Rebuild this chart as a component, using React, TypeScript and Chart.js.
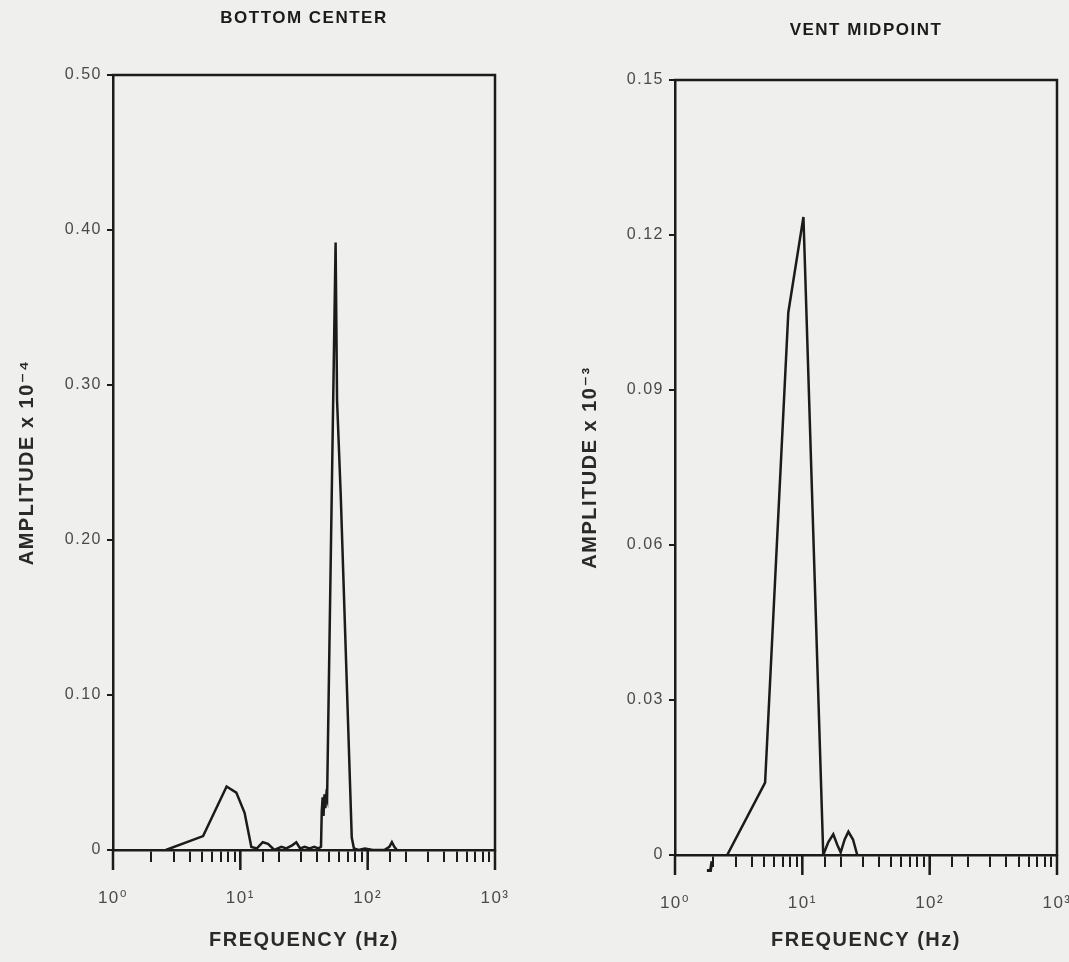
import React, { useEffect, useRef } from "react";
import { Chart, registerables } from "chart.js";

Chart.register(...registerables);

// ---------- data ----------
const leftFreq = [2.6, 5.1, 7.8, 9.3, 10.8, 12.2, 13.5, 15, 16.5, 18.5, 21, 23, 25.5, 27.5, 29.5, 32, 35, 38, 41, 43, 43.6, 44.3, 45, 45.8, 46.5, 47.3, 48, 56, 57.5, 61.5, 75, 78, 85, 95, 110, 135, 148, 155, 162, 170];
const leftAmp = [0, 0.009, 0.041, 0.037, 0.024, 0.002, 0.001, 0.005, 0.004, 0.0, 0.002, 0.001, 0.003, 0.005, 0.001, 0.002, 0.001, 0.002, 0.001, 0.002, 0.025, 0.034, 0.022, 0.036, 0.027, 0.035, 0.033, 0.392, 0.29, 0.228, 0.008, 0.001, 0.0, 0.001, 0.0, 0.0, 0.002, 0.005, 0.002, 0];

const rightFreq = [2.57, 5.1, 7.76, 10.2, 10.4, 14.6, 16, 17.5, 18.8, 20, 21.5, 23, 25, 27];
const rightAmp = [0, 0.014, 0.105, 0.1235, 0.117, 0, 0.0025, 0.004, 0.002, 0.0005, 0.003, 0.0045, 0.003, 0];

// small stray mark below the axis on the right panel
const rightMarkFreq = [1.78, 1.9, 1.95];
const rightMarkAmp = [-0.003, -0.003, -0.0012];

const leftYTicks = [0, 0.1, 0.2, 0.3, 0.4, 0.5];
const rightYTicks = [0, 0.03, 0.06, 0.09, 0.12, 0.15];
const xMajorTicks = [1, 10, 100, 1000];
const superscripts = ["\u2070", "\u00b9", "\u00b2", "\u00b3"];

const leftTitle = "BOTTOM CENTER";
const rightTitle = "VENT MIDPOINT";
const xTitle = "FREQUENCY (Hz)";
const leftYTitle = "AMPLITUDE x 10\u207b\u2074";
const rightYTitle = "AMPLITUDE x 10\u207b\u00b3";

// ---------- style ----------
const INK = "#1b1b1b";
const LABEL = "#4a4a4a";
const BG = "#efefed";
const SANS = '"Liberation Sans", Arial, "DejaVu Sans", sans-serif';

const spacingPlugin = {
  id: "spacing",
  beforeDraw(chart: any) {
    chart.ctx.letterSpacing = "1.5px";
  },
};

const framePlugin = {
  id: "frame",
  afterDraw(chart: any) {
    const { ctx, chartArea: a, scales } = chart;
    ctx.save();
    ctx.strokeStyle = INK;
    ctx.lineWidth = 2.5;
    ctx.lineCap = "square";
    ctx.beginPath();
    ctx.moveTo(a.left, a.top);
    ctx.lineTo(a.right, a.top);
    ctx.lineTo(a.right, a.bottom);
    ctx.stroke();
    // longer marks for decades
    ctx.lineCap = "butt";
    ctx.beginPath();
    for (const v of xMajorTicks) {
      const px = scales.x.getPixelForValue(v);
      ctx.moveTo(px, a.bottom);
      ctx.lineTo(px, a.bottom + 20);
    }
    ctx.stroke();
    ctx.restore();
  },
};

function toPoints(xs: number[], ys: number[]) {
  return xs.map((x, i) => ({ x, y: ys[i] }));
}

function fmtY(v: number) {
  if (Math.abs(v) < 1e-12) return "0";
  return v.toFixed(2);
}

function buildConfig(p: any) {
  const datasets: any[] = [
    {
      data: toPoints(p.freq, p.amp),
      borderColor: INK,
      borderWidth: 2.5,
      pointRadius: 0,
      tension: 0,
      fill: false,
    },
  ];
  if (p.markFreq) {
    datasets.push({
      data: toPoints(p.markFreq, p.markAmp),
      borderColor: INK,
      borderWidth: 3,
      pointRadius: 0,
      tension: 0,
      fill: false,
      clip: false,
    });
  }
  return {
    type: "line",
    data: { datasets },
    options: {
      responsive: false,
      animation: false,
      events: [],
      layout: { padding: { left: 0, right: p.padRight, top: 0, bottom: 0 } },
      plugins: {
        legend: { display: false },
        tooltip: { enabled: false },
        title: {
          display: true,
          text: p.title,
          fullSize: false,
          color: INK,
          font: { family: SANS, size: 17, weight: "bold", lineHeight: 1.2 },
          padding: { top: p.titleTop, bottom: p.titleBottom },
        },
      },
      scales: {
        x: {
          type: "logarithmic",
          min: 1,
          max: 1000,
          afterFit: (s: any) => {
            s.height = p.xHeight;
            s.paddingLeft = 0;
            s.paddingRight = 0;
          },
          ticks: {
            autoSkip: false,
            maxRotation: 0,
            minRotation: 0,
            padding: 26,
            color: LABEL,
            font: { family: SANS, size: 17 },
            callback: (value: any) => {
              const e = Math.log10(Number(value));
              const r = Math.round(e);
              return Math.abs(e - r) < 1e-9 ? "10" + superscripts[r] : "";
            },
          },
          grid: {
            display: true,
            drawOnChartArea: false,
            drawTicks: true,
            tickLength: 12,
            color: INK,
            lineWidth: 2,
          },
          border: { display: true, color: INK, width: 2.5 },
          title: {
            display: true,
            text: xTitle,
            color: "#2a2a2a",
            font: { family: SANS, size: 20, weight: "bold", lineHeight: 1.2 },
            padding: { top: 0, bottom: 10 },
          },
        },
        y: {
          type: "linear",
          min: 0,
          max: p.yMax,
          afterFit: (s: any) => {
            s.width = p.yWidth;
            s.paddingTop = 0;
            s.paddingBottom = 0;
          },
          afterBuildTicks: (s: any) => {
            s.ticks = p.yTicks.map((v: number) => ({ value: v }));
          },
          ticks: {
            padding: 5,
            color: LABEL,
            font: { family: SANS, size: 16 },
            callback: (value: any) => fmtY(Number(value)),
          },
          grid: {
            display: true,
            drawOnChartArea: false,
            drawTicks: true,
            tickLength: 6,
            color: INK,
            lineWidth: 2,
          },
          border: { display: true, color: INK, width: 2.5 },
          title: {
            display: true,
            text: p.yTitle,
            color: "#2a2a2a",
            font: { family: SANS, size: 20, weight: "bold", lineHeight: 1.2 },
            padding: { top: p.yTitlePad, bottom: 0 },
          },
        },
      },
    },
    plugins: [spacingPlugin, framePlugin],
  };
}

function Panel(props: { left: number; width: number; params: any }) {
  const ref = useRef<HTMLCanvasElement>(null);
  useEffect(() => {
    const chart = new Chart(ref.current as HTMLCanvasElement, buildConfig(props.params) as any);
    return () => chart.destroy();
  }, []);
  return (
    <canvas
      ref={ref}
      width={props.width}
      height={962}
      style={{ position: "absolute", left: props.left, top: 0, width: props.width, height: 962, display: "block" }}
    />
  );
}

const leftParams = {
  freq: leftFreq,
  amp: leftAmp,
  title: leftTitle,
  yTitle: leftYTitle,
  yTicks: leftYTicks,
  yMax: 0.5,
  yWidth: 113,
  xHeight: 112,
  padRight: 55,
  titleTop: 8,
  titleBottom: 46.6,
  yTitlePad: 15.5,
};

const rightParams = {
  freq: rightFreq,
  amp: rightAmp,
  markFreq: rightMarkFreq,
  markAmp: rightMarkAmp,
  title: rightTitle,
  yTitle: rightYTitle,
  yTicks: rightYTicks,
  yMax: 0.15,
  yWidth: 125,
  xHeight: 107,
  padRight: 12,
  titleTop: 19.8,
  titleBottom: 39.8,
  yTitlePad: 28,
};

export default function App() {
  return (
    <div
      style={{
        position: "absolute",
        left: 0,
        top: 0,
        width: 1069,
        height: 962,
        background: BG,
        overflow: "hidden",
      }}
    >
      <Panel left={0} width={550} params={leftParams} />
      <Panel left={550} width={519} params={rightParams} />
    </div>
  );
}
